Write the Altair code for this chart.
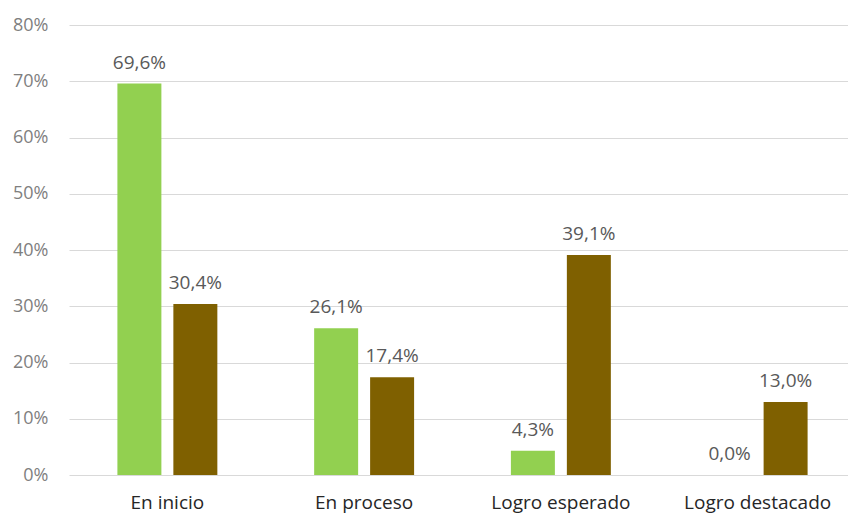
import altair as alt
import pandas as pd

categories = ["En inicio", "En proceso", "Logro esperado", "Logro destacado"]
series_names = ["Serie 1", "Serie 2"]
green_values = [69.6, 26.1, 4.3, 0.0]
brown_values = [30.4, 17.4, 39.1, 13.0]
series_colors = ["#92D050", "#7F6000"]
y_tick_values = [0, 10, 20, 30, 40, 50, 60, 70, 80]

rows = []
for s, vals in zip(series_names, [green_values, brown_values]):
    for c, v in zip(categories, vals):
        rows.append({"cat": c, "serie": s, "value": v,
                     "label": f"{v:.1f}".replace(".", ",") + "%"})
df = pd.DataFrame(rows)

FONT = "Open Sans"

x_enc = alt.X(
    "cat:N", sort=categories,
    scale=alt.Scale(range=[0, 787], paddingInner=0.492, paddingOuter=0.246),
    axis=alt.Axis(title=None, labelAngle=0, domain=False, ticks=False, tickSize=0,
                  grid=False,
                  labelFont=FONT, labelFontSize=19, labelColor="#262626",
                  labelBaseline="alphabetic", labelPadding=33),
)
xoff_enc = alt.XOffset("serie:N", sort=series_names,
                       scale=alt.Scale(paddingInner=0.214, paddingOuter=0))
y_enc = alt.Y(
    "value:Q",
    scale=alt.Scale(domain=[0, 80], nice=False),
    axis=alt.Axis(title=None, values=y_tick_values, domain=False, ticks=False, tickSize=0,
                  labelExpr="datum.value + '%'", labelFont=FONT, labelFontSize=18,
                  labelColor="#7F7F7F", labelPadding=21,
                  grid=True, gridColor="#D9D9D9", gridWidth=1),
)
color_enc = alt.Color("serie:N", sort=series_names,
                      scale=alt.Scale(domain=series_names, range=series_colors),
                      legend=None)

base = alt.Chart(df).encode(x=x_enc, xOffset=xoff_enc)

bars = base.mark_bar().encode(y=y_enc, color=color_enc)
labels = base.mark_text(baseline="alphabetic", dy=-15, font=FONT, fontSize=19,
                        color="#595959").encode(y=alt.Y("value:Q"), text="label:N")

chart = (
    alt.layer(bars, labels)
    .properties(width=779, height=450,
                background="white",
                autosize=alt.AutoSizeParams(type="none"),
                padding={"left": 69, "top": 25, "right": 0, "bottom": 38})
    .configure_view(stroke="transparent", strokeWidth=0)
    .configure_axis(domain=False)
)

chart.save("out.html", embed_options={"renderer": "svg", "actions": False})
